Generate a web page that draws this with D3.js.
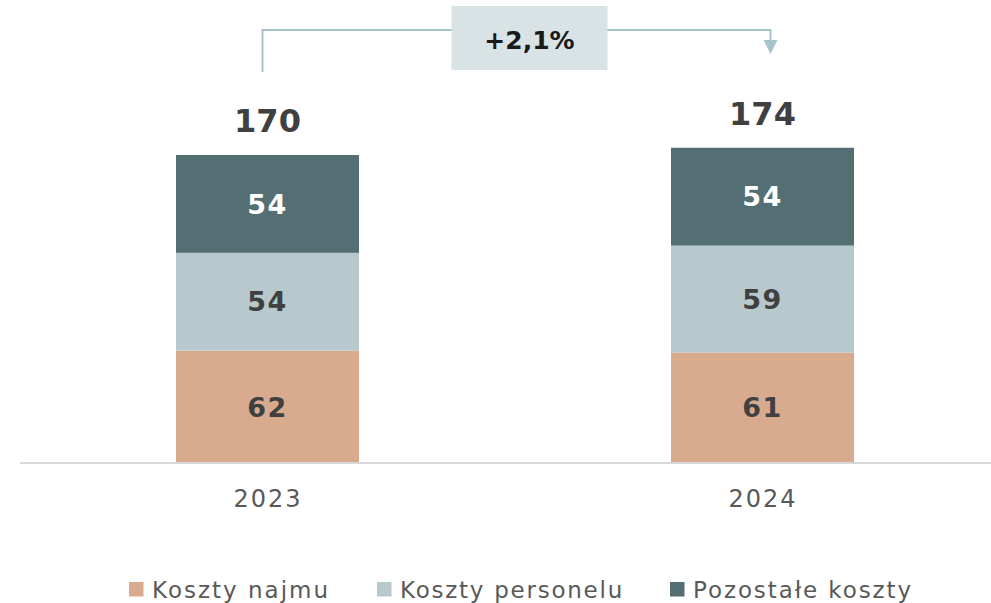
<!DOCTYPE html>
<html>
<head>
<meta charset="utf-8">
<script src="https://cdn.jsdelivr.net/npm/d3@7/dist/d3.min.js"></script>
<style>
  html, body { margin: 0; padding: 0; background: #fff; }
  svg { display: block; font-family: "DejaVu Sans", "Noto Sans", sans-serif; }
</style>
</head>
<body>
<svg id="chart" width="991" height="603"></svg>
<script>
// ── Data ──────────────────────────────────────────────────────────────────────
const years     = ['2023', '2024'];
const najmu     = [62, 61];
const personelu = [54, 59];
const pozostale = [54, 54];
const changeLbl = '+2,1%';

const seriesNames = ['Koszty najmu', 'Koszty personelu', 'Pozostałe koszty'];
const seriesVals  = [najmu, personelu, pozostale];
const CLR = ['#d8ab8f', '#b7c9cd', '#546f73'];
const TXT = ['#404040', '#404040', '#ffffff'];

// ── Layout ────────────────────────────────────────────────────────────────────
const W = 991, H = 603;
const base = 463, barW = 183;
const svg = d3.select('#chart');

const x = d3.scalePoint().domain(years).range([20, 1010]).padding(0.5);
const y = d3.scaleLinear().domain([0, 170]).range([base, base - 308]);

const rows = years.map((yr, i) => {
  const r = { year: yr };
  seriesNames.forEach((s, k) => r[s] = seriesVals[k][i]);
  return r;
});
const stack = d3.stack().keys(seriesNames)(rows);
const totals = rows.map(r => d3.sum(seriesNames, s => r[s]));

// bars
stack.forEach((layer, k) => {
  const g = svg.append('g');
  g.selectAll('rect').data(layer).join('rect')
    .attr('x', d => x(d.data.year) - barW / 2)
    .attr('y', d => y(d[1]))
    .attr('width', barW)
    .attr('height', d => y(d[0]) - y(d[1]))
    .attr('fill', CLR[k]);
  g.selectAll('text').data(layer).join('text')
    .attr('x', d => x(d.data.year))
    .attr('y', d => (y(d[0]) + y(d[1])) / 2)
    .attr('dy', '0.36em')
    .attr('text-anchor', 'middle')
    .attr('font-size', 27).attr('font-weight', 'bold')
    .attr('letter-spacing', 1.5)
    .attr('fill', TXT[k])
    .text(d => d[1] - d[0]);
});

// baseline
svg.append('line')
  .attr('x1', 20).attr('x2', W).attr('y1', base).attr('y2', base)
  .attr('stroke', '#d9d9d9').attr('stroke-width', 2);

// totals
svg.selectAll('.tot').data(rows).join('text')
  .attr('class', 'tot')
  .attr('x', d => x(d.year))
  .attr('y', (d, i) => y(totals[i]) - 23)
  .attr('text-anchor', 'middle')
  .attr('font-size', 32).attr('font-weight', 'bold')
  .attr('fill', '#404040')
  .text((d, i) => totals[i]);

// year labels
const xAxis = svg.append('g').attr('transform', `translate(0,${base})`)
  .call(d3.axisBottom(x).tickSize(0).tickPadding(27));
xAxis.select('.domain').remove();
xAxis.selectAll('text')
  .attr('font-size', 24).attr('fill', '#595959')
  .attr('letter-spacing', 2)
  .attr('font-family', '"DejaVu Sans", sans-serif');

// change bracket
const lx = x(years[0]) - 5, rx = x(years[1]) + 8, ly = 30;
svg.append('path')
  .attr('d', `M${lx},72 V${ly} H${rx} V42`)
  .attr('fill', 'none').attr('stroke', '#a7c3ca').attr('stroke-width', 2);
svg.append('path')
  .attr('d', `M${rx - 7},40 L${rx + 7},40 L${rx},54 Z`)
  .attr('fill', '#a7c3ca');
const cx = (lx + rx) / 2 + 13;
svg.append('rect')
  .attr('x', cx - 78).attr('y', 6).attr('width', 156).attr('height', 64)
  .attr('fill', '#d9e2e5');
svg.append('text')
  .attr('x', cx).attr('y', 40).attr('dy', '0.36em')
  .attr('text-anchor', 'middle')
  .attr('font-size', 25).attr('font-weight', 'bold').attr('fill', '#1a1a1a')
  .text(changeLbl);

// legend
const legX = [129, 377, 670];
const legLS = [2, 1.75, 1.9];
const leg = svg.append('g').selectAll('g').data(seriesNames).join('g')
  .attr('transform', (d, i) => `translate(${legX[i]},589.5)`);
leg.append('rect').attr('x', 0).attr('y', -7.5).attr('width', 14.5).attr('height', 14.5)
  .attr('fill', (d, i) => CLR[i]);
leg.append('text').attr('x', 23).attr('dy', '0.36em')
  .attr('font-size', 23).attr('fill', '#595959')
  .attr('letter-spacing', (d, i) => legLS[i])
  .text(d => d);
</script>
</body>
</html>
